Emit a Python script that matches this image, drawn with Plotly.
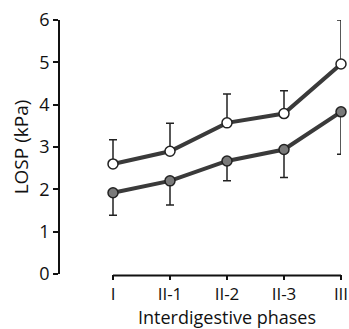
import plotly.graph_objects as go

phases = ["I", "II-1", "II-2", "II-3", "III"]
upper_mean = [2.6, 2.9, 3.57, 3.79, 4.96]
upper_err = [0.57, 0.66, 0.68, 0.54, 1.04]
lower_mean = [1.92, 2.2, 2.67, 2.94, 3.83]
lower_err = [0.53, 0.57, 0.47, 0.66, 1.0]
xpos = list(range(len(phases)))

fig = go.Figure()
fig.add_trace(go.Scatter(
    x=xpos, y=lower_mean, mode="lines+markers", cliponaxis=False,
    line=dict(color="#3a3a3a", width=4),
    marker=dict(symbol="circle", size=10, color="#7a7a7a", line=dict(color="#222", width=1.5)),
    error_y=dict(type="data", symmetric=False, array=[0]*5, arrayminus=lower_err,
                 color="#222", thickness=1.5, width=4),
))
fig.add_trace(go.Scatter(
    x=xpos, y=upper_mean, mode="lines+markers", cliponaxis=False,
    line=dict(color="#3a3a3a", width=4),
    marker=dict(symbol="circle", size=10, color="white", line=dict(color="#222", width=1.5)),
    error_y=dict(type="data", symmetric=False, array=upper_err, arrayminus=[0]*5,
                 color="#222", thickness=1.5, width=4),
))

# x-axis baseline spans only the category range (offset from the y axis)
fig.add_shape(type="line", xref="x", yref="paper", x0=xpos[0], x1=xpos[-1], y0=-0.006, y1=-0.006,
              line=dict(color="#111", width=2), layer="above")

fig.add_annotation(text="Interdigestive phases", xref="paper", yref="paper",
                   x=(227 - 60) / 281, y=-0.168, xanchor="center", yanchor="middle",
                   showarrow=False, font=dict(size=18, color="#111"))

font = "Open Sans, Noto Sans, sans-serif"
fig.update_layout(
    width=349, height=329,
    margin=dict(l=60, r=8, t=20, b=55),
    paper_bgcolor="white", plot_bgcolor="rgba(0,0,0,0)",
    showlegend=False,
    font=dict(family=font, color="#111", size=16),
    xaxis=dict(
        range=[-53/57, 4], tickvals=xpos, ticktext=phases,
        showline=False, automargin=False,
        ticks="outside", ticklen=5, tickwidth=2, tickcolor="#111",
        showgrid=False, zeroline=False,
        tickfont=dict(size=17, color="#111"),
    ),
    yaxis=dict(
        range=[0, 6], dtick=1, automargin=False,
        showline=True, linecolor="#111", linewidth=1.6,
        ticks="outside", ticklen=5, tickwidth=1.6, tickcolor="#111",
        showgrid=False, zeroline=False,
        title=dict(text="LOSP (kPa)", font=dict(size=19, color="#111"), standoff=6),
        tickfont=dict(size=18, color="#111"),
    ),
)
fig.write_html("out.html")
